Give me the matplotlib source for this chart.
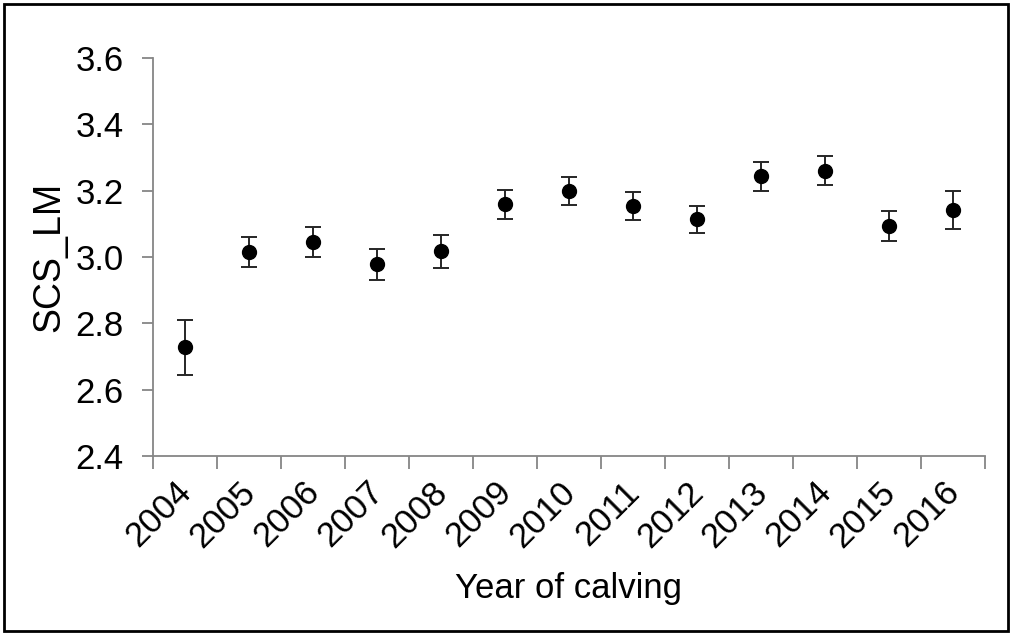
import numpy as np
import matplotlib
matplotlib.use("Agg")
import matplotlib.pyplot as plt
import matplotlib.transforms as mtransforms
from matplotlib.patches import Rectangle

plt.rcParams["font.family"] = ["Liberation Sans", "DejaVu Sans"]

# Least-squares means of SCS by year of calving, with standard errors
years = ["2004", "2005", "2006", "2007", "2008", "2009", "2010",
         "2011", "2012", "2013", "2014", "2015", "2016"]
scs_lm = [2.727, 3.015, 3.045, 2.977, 3.018, 3.160, 3.200,
          3.153, 3.113, 3.243, 3.260, 3.093, 3.142]
err_low = [0.083, 0.045, 0.045, 0.047, 0.052, 0.045, 0.044,
           0.042, 0.041, 0.043, 0.043, 0.045, 0.057]
err_high = [0.083, 0.045, 0.045, 0.047, 0.048, 0.043, 0.040,
            0.043, 0.041, 0.043, 0.045, 0.046, 0.055]

fig = plt.figure(figsize=(10.13, 6.35), dpi=100)
fig.patches.append(Rectangle((0.004, 0.006), 0.991, 0.988, transform=fig.transFigure,
                             fill=False, edgecolor="black", linewidth=2))

ax = fig.add_axes([0.151, 0.282, 0.821, 0.627])
x = np.arange(len(years)) + 0.5
ax.errorbar(x, scs_lm, yerr=[err_low, err_high], fmt="o", color="black",
            ecolor="#262626", markersize=10, capsize=6, elinewidth=1.4,
            capthick=1.4)

ax.set_xlim(0, len(years))
ax.set_ylim(2.4, 3.6)
ax.set_yticks(np.arange(2.4, 3.61, 0.2))
ax.set_yticklabels([f"{v:.1f}" for v in np.arange(2.4, 3.61, 0.2)], fontsize=25)

# ticks on category boundaries, labels on category centres
ax.set_xticks(np.arange(len(years) + 1))
ax.set_xticklabels([])
ax.set_xticks(x, minor=True)
ax.set_xticklabels(years, minor=True, rotation=45, ha="right", va="top",
                   rotation_mode="anchor", fontsize=25)
ax.tick_params(axis="x", which="minor", length=0, pad=14)
ax.tick_params(axis="x", which="major", length=9, width=1.3, color="#868686")
ax.tick_params(axis="y", length=8, width=1.3, color="#868686", pad=13)

# nudge the rotated year labels so their ends sit under the points
shift = mtransforms.ScaledTranslation(-10 / 100, 0, fig.dpi_scale_trans)
for lbl in ax.get_xticklabels(minor=True):
    lbl.set_transform(lbl.get_transform() + shift)

for side in ["top", "right"]:
    ax.spines[side].set_visible(False)
for side in ["left", "bottom"]:
    ax.spines[side].set_color("#868686")
    ax.spines[side].set_linewidth(1.3)

ax.set_xlabel("Year of calving", fontsize=25, labelpad=13)
ax.set_ylabel("SCS_LM", fontsize=27, labelpad=6)

fig.savefig("out.png", dpi=100)
